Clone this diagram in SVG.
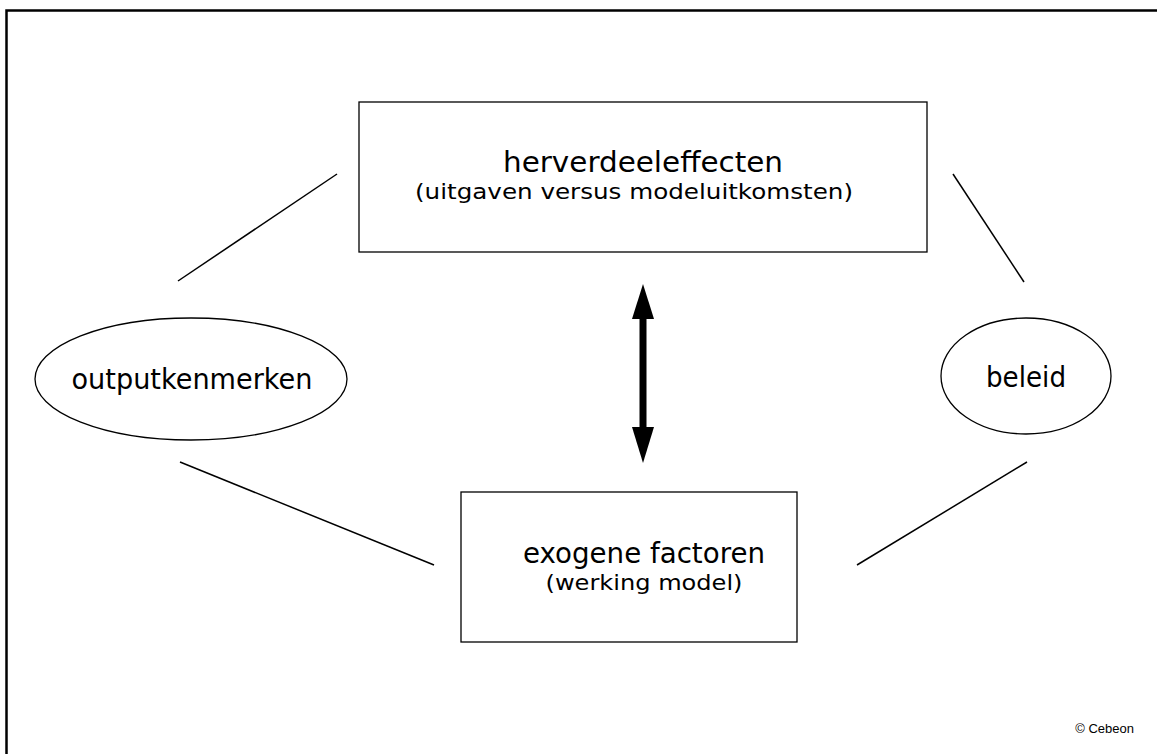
<svg xmlns="http://www.w3.org/2000/svg" width="1157" height="754" viewBox="0 0 1157 754">
<style>
.box{fill:#fff;stroke:#000;stroke-width:1.3}
.lbl{font-family:"DejaVu Sans",Verdana,sans-serif;fill:#000;text-anchor:middle}
.big{font-size:28px}
.sub{font-size:22px}
.con{stroke:#000;stroke-width:1.5;fill:none}
</style>
<rect width="1157" height="754" fill="#fff"/>
<g id="frame">
<path d="M6.5,754 V10.5 H1157" fill="none" stroke="#000" stroke-width="2.5"/>
</g>
<g id="connectors">
<line class="con" x1="178" y1="281" x2="337" y2="174"/>
<line class="con" x1="953" y1="174" x2="1024" y2="282"/>
<line class="con" x1="180" y1="462" x2="434" y2="565"/>
<line class="con" x1="857" y1="565" x2="1027" y2="462"/>
<g id="double-arrow">
<rect x="639.5" y="317" width="7" height="112" fill="#000"/>
<polygon points="643,284 654,319 632,319" fill="#000"/>
<polygon points="643,463 654,427 632,427" fill="#000"/>
</g>
</g>
<g id="herverdeeleffecten">
<rect class="box" x="359" y="102" width="568" height="150"/>
<text class="lbl big" x="643" y="172" textLength="280" lengthAdjust="spacingAndGlyphs">herverdeeleffecten</text>
<text class="lbl sub" x="634" y="199" textLength="438" lengthAdjust="spacingAndGlyphs">(uitgaven versus modeluitkomsten)</text>
</g>
<g id="exogene-factoren">
<rect class="box" x="461" y="492" width="336" height="150"/>
<text class="lbl big" x="644" y="563" textLength="242" lengthAdjust="spacingAndGlyphs">exogene factoren</text>
<text class="lbl sub" x="644" y="590" textLength="197" lengthAdjust="spacingAndGlyphs">(werking model)</text>
</g>
<g id="outputkenmerken">
<ellipse class="box" cx="191" cy="379" rx="156" ry="61"/>
<text class="lbl big" x="192" y="389" textLength="241" lengthAdjust="spacingAndGlyphs">outputkenmerken</text>
</g>
<g id="beleid">
<ellipse class="box" cx="1026" cy="376" rx="85" ry="58"/>
<text class="lbl big" x="1026" y="387" textLength="80" lengthAdjust="spacingAndGlyphs">beleid</text>
</g>
<text x="1134" y="733" font-family="Liberation Sans,Arial,sans-serif" font-size="13" text-anchor="end" fill="#000">© Cebeon</text>
</svg>
